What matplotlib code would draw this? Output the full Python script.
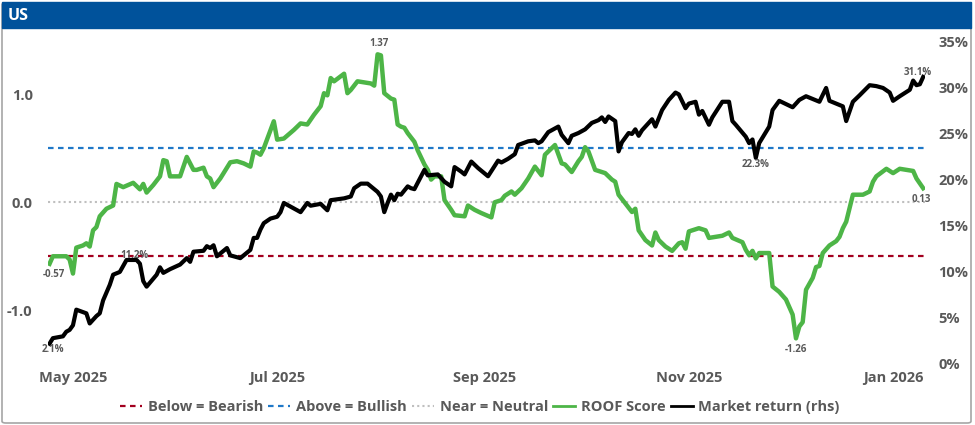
import pandas as pd
import matplotlib
matplotlib.use('Agg')
import matplotlib.pyplot as plt
import matplotlib.dates as mdates
from matplotlib.patches import Rectangle, FancyBboxPatch
from matplotlib.lines import Line2D
from matplotlib.ticker import FuncFormatter

plt.rcParams['font.family'] = ['Open Sans', 'Lato', 'DejaVu Sans']
plt.rcParams['font.weight'] = 'bold'

# --- data ---
roof_dates = [
    '2025-04-24', '2025-04-25', '2025-04-29', '2025-04-30', '2025-05-01', '2025-05-02',
    '2025-05-04', '2025-05-05', '2025-05-06', '2025-05-07', '2025-05-08', '2025-05-09',
    '2025-05-11', '2025-05-13', '2025-05-14', '2025-05-16', '2025-05-19', '2025-05-20',
    '2025-05-21', '2025-05-22', '2025-05-23', '2025-05-25', '2025-05-27', '2025-05-28',
    '2025-05-29', '2025-05-30', '2025-06-02', '2025-06-04', '2025-06-06', '2025-06-07',
    '2025-06-09', '2025-06-10', '2025-06-11', '2025-06-12', '2025-06-14', '2025-06-17',
    '2025-06-19', '2025-06-21', '2025-06-23', '2025-06-24', '2025-06-25', '2025-06-26',
    '2025-06-27', '2025-06-30', '2025-07-01', '2025-07-03', '2025-07-06', '2025-07-08',
    '2025-07-10', '2025-07-12', '2025-07-14', '2025-07-15', '2025-07-16', '2025-07-17',
    '2025-07-18', '2025-07-21', '2025-07-22', '2025-07-23', '2025-07-25', '2025-07-29',
    '2025-07-30', '2025-07-31', '2025-08-01', '2025-08-02', '2025-08-04', '2025-08-05',
    '2025-08-06', '2025-08-07', '2025-08-08', '2025-08-09', '2025-08-11', '2025-08-12',
    '2025-08-14', '2025-08-15', '2025-08-16', '2025-08-17', '2025-08-19', '2025-08-20',
    '2025-08-22', '2025-08-23', '2025-08-26', '2025-08-27', '2025-08-29', '2025-08-31',
    '2025-09-03', '2025-09-04', '2025-09-06', '2025-09-07', '2025-09-09', '2025-09-10',
    '2025-09-12', '2025-09-14', '2025-09-16', '2025-09-18', '2025-09-19', '2025-09-20',
    '2025-09-22', '2025-09-24', '2025-09-25', '2025-09-27', '2025-09-29', '2025-09-30',
    '2025-10-01', '2025-10-02', '2025-10-04', '2025-10-07', '2025-10-09', '2025-10-10',
    '2025-10-11', '2025-10-13', '2025-10-15', '2025-10-16', '2025-10-17', '2025-10-19',
    '2025-10-21', '2025-10-22', '2025-10-23', '2025-10-25', '2025-10-27', '2025-10-29',
    '2025-10-30', '2025-10-31', '2025-11-01', '2025-11-04', '2025-11-06', '2025-11-07',
    '2025-11-09', '2025-11-11', '2025-11-13', '2025-11-14', '2025-11-17', '2025-11-18',
    '2025-11-19', '2025-11-20', '2025-11-21', '2025-11-22', '2025-11-25', '2025-11-26',
    '2025-11-28', '2025-11-30', '2025-12-02', '2025-12-03', '2025-12-04', '2025-12-05',
    '2025-12-06', '2025-12-08', '2025-12-09', '2025-12-10', '2025-12-11', '2025-12-13',
    '2025-12-15', '2025-12-16', '2025-12-17', '2025-12-18', '2025-12-20', '2025-12-23',
    '2025-12-25', '2025-12-26', '2025-12-27', '2025-12-30', '2026-01-01', '2026-01-03',
    '2026-01-07', '2026-01-08', '2026-01-10',
]
roof_score = [
    -0.57, -0.50, -0.50, -0.53, -0.66, -0.42,
    -0.40, -0.38, -0.41, -0.26, -0.23, -0.13,
    -0.06, -0.03, 0.17, 0.14, 0.18, 0.15,
    0.12, 0.17, 0.09, 0.16, 0.24, 0.39,
    0.38, 0.24, 0.24, 0.42, 0.30, 0.30,
    0.32, 0.24, 0.22, 0.14, 0.22, 0.37,
    0.38, 0.36, 0.33, 0.47, 0.46, 0.44,
    0.50, 0.75, 0.58, 0.59, 0.67, 0.73,
    0.72, 0.81, 0.89, 1.01, 0.99, 1.15,
    1.12, 1.19, 1.01, 1.04, 1.12, 1.10,
    1.08, 1.37, 1.36, 1.01, 0.96, 0.95,
    0.72, 0.70, 0.69, 0.64, 0.56, 0.48,
    0.35, 0.30, 0.21, 0.24, 0.24, 0.02,
    -0.07, -0.12, -0.13, -0.03, -0.07, -0.10,
    -0.14, 0.00, 0.02, 0.06, 0.10, 0.07,
    0.13, 0.22, 0.33, 0.25, 0.44, 0.47,
    0.53, 0.36, 0.35, 0.28, 0.38, 0.42,
    0.51, 0.47, 0.30, 0.27, 0.21, 0.19,
    0.07, -0.01, -0.09, -0.06, -0.26, -0.35,
    -0.40, -0.28, -0.35, -0.41, -0.45, -0.38,
    -0.37, -0.43, -0.27, -0.24, -0.26, -0.33,
    -0.32, -0.31, -0.28, -0.33, -0.37, -0.44,
    -0.49, -0.45, -0.52, -0.47, -0.47, -0.78,
    -0.83, -0.90, -1.04, -1.26, -1.15, -1.11,
    -0.81, -0.70, -0.60, -0.59, -0.47, -0.40,
    -0.36, -0.32, -0.24, -0.18, 0.07, 0.07,
    0.10, 0.19, 0.24, 0.31, 0.27, 0.31,
    0.29, 0.22, 0.13,
]

mkt_dates = [
    '2025-04-24', '2025-04-25', '2025-04-28', '2025-04-29', '2025-04-30', '2025-05-01',
    '2025-05-02', '2025-05-05', '2025-05-06', '2025-05-08', '2025-05-09', '2025-05-10',
    '2025-05-12', '2025-05-13', '2025-05-15', '2025-05-17', '2025-05-20', '2025-05-21',
    '2025-05-22', '2025-05-23', '2025-05-26', '2025-05-27', '2025-05-28', '2025-05-30',
    '2025-06-02', '2025-06-04', '2025-06-05', '2025-06-06', '2025-06-09', '2025-06-10',
    '2025-06-11', '2025-06-12', '2025-06-13', '2025-06-16', '2025-06-17', '2025-06-20',
    '2025-06-23', '2025-06-24', '2025-06-25', '2025-06-26', '2025-06-27', '2025-06-29',
    '2025-07-01', '2025-07-02', '2025-07-03', '2025-07-05', '2025-07-08', '2025-07-10',
    '2025-07-11', '2025-07-14', '2025-07-16', '2025-07-17', '2025-07-21', '2025-07-23',
    '2025-07-24', '2025-07-26', '2025-07-28', '2025-07-31', '2025-08-01', '2025-08-02',
    '2025-08-03', '2025-08-04', '2025-08-05', '2025-08-06', '2025-08-07', '2025-08-09',
    '2025-08-10', '2025-08-11', '2025-08-13', '2025-08-14', '2025-08-15', '2025-08-18',
    '2025-08-20', '2025-08-22', '2025-08-23', '2025-08-25', '2025-08-26', '2025-08-28',
    '2025-08-30', '2025-09-02', '2025-09-05', '2025-09-06', '2025-09-08', '2025-09-10',
    '2025-09-11', '2025-09-14', '2025-09-16', '2025-09-17', '2025-09-18', '2025-09-20',
    '2025-09-23', '2025-09-24', '2025-09-26', '2025-09-27', '2025-09-29', '2025-10-01',
    '2025-10-03', '2025-10-05', '2025-10-06', '2025-10-07', '2025-10-08', '2025-10-10',
    '2025-10-11', '2025-10-12', '2025-10-14', '2025-10-15', '2025-10-16', '2025-10-17',
    '2025-10-18', '2025-10-21', '2025-10-22', '2025-10-24', '2025-10-26', '2025-10-28',
    '2025-10-29', '2025-10-31', '2025-11-01', '2025-11-03', '2025-11-04', '2025-11-05',
    '2025-11-07', '2025-11-08', '2025-11-11', '2025-11-13', '2025-11-14', '2025-11-15',
    '2025-11-18', '2025-11-19', '2025-11-20', '2025-11-21', '2025-11-22', '2025-11-24',
    '2025-11-25', '2025-11-26', '2025-11-28', '2025-12-02', '2025-12-04', '2025-12-06',
    '2025-12-10', '2025-12-12', '2025-12-13', '2025-12-15', '2025-12-17', '2025-12-18',
    '2025-12-20', '2025-12-22', '2025-12-25', '2025-12-27', '2025-12-29', '2025-12-31',
    '2026-01-01', '2026-01-03', '2026-01-06', '2026-01-07', '2026-01-08', '2026-01-09',
    '2026-01-10',
]
mkt_return = [
    2.1, 2.7, 2.9, 3.4, 3.6, 4.1,
    5.8, 5.4, 4.3, 5.1, 5.4, 6.8,
    8.5, 9.6, 9.9, 11.2, 11.2, 10.8,
    8.9, 8.3, 9.6, 10.4, 9.8, 10.2,
    10.7, 11.4, 11.0, 12.1, 12.2, 12.7,
    12.5, 12.8, 11.6, 12.5, 11.7, 11.4,
    12.3, 13.6, 13.6, 14.5, 15.2, 15.7,
    15.9, 16.4, 17.4, 17.0, 16.4, 17.4,
    17.1, 17.3, 16.6, 17.7, 17.9, 18.1,
    19.0, 19.5, 19.5, 18.6, 18.1, 16.4,
    17.4, 18.3, 17.7, 18.4, 18.3, 19.2,
    19.0, 18.9, 20.3, 21.0, 20.4, 20.5,
    19.7, 19.2, 21.3, 20.8, 20.5, 21.9,
    21.2, 20.3, 22.0, 21.8, 22.2, 22.7,
    23.7, 24.1, 24.2, 23.9, 24.1, 25.1,
    25.7, 24.8, 23.9, 24.7, 25.0, 25.4,
    26.1, 26.4, 26.7, 26.2, 26.8, 26.3,
    23.0, 24.0, 25.0, 24.9, 25.4, 24.7,
    25.3, 26.5, 25.7, 27.5, 28.6, 29.4,
    29.2, 27.7, 28.2, 28.4, 27.0, 27.4,
    25.9, 26.7, 28.4, 28.4, 26.3, 25.9,
    24.6, 23.9, 24.3, 22.3, 23.9, 25.1,
    25.7, 27.5, 28.5, 27.8, 28.6, 29.0,
    28.4, 29.9, 28.5, 28.2, 27.9, 26.3,
    28.4, 29.1, 30.2, 30.1, 29.9, 29.4,
    28.5, 29.0, 29.7, 30.7, 30.2, 30.3,
    31.1,
]

bearish_level = -0.5
bullish_level = 0.5
neutral_level = 0.0

# labelled points: (date, text, offset in points)
roof_labels = [('2025-04-24', '-0.57', (3, -8)), ('2025-07-31', '1.37', (1, 7.5)),
               ('2025-12-03', '-1.26', (0, -8)), ('2026-01-10', '0.13', (-1.5, -8))]
mkt_labels = [('2025-04-24', '2.1%', (2.5, -4.5)), ('2025-05-17', '11.2%', (6, 3)),
              ('2025-11-21', '22.3%', (0, -4.5)), ('2026-01-10', '31.1%', (-4, 3))]

GREY = '#595959'
GREEN = '#4DB547'
RED = '#A3001F'
BLUE = '#1F78C8'
DOT = '#BFBFBF'

rd = pd.to_datetime(roof_dates)
md = pd.to_datetime(mkt_dates)

fig = plt.figure(figsize=(9.75, 4.25), dpi=100)
W, H = 975, 425

# outer frame and title bar
fig.patches.append(FancyBboxPatch((2 / W, 2 / H), 969 / W, 420 / H,
                                  boxstyle='round,pad=0,rounding_size=0.004',
                                  transform=fig.transFigure, fill=False,
                                  edgecolor='#A6A6A6', linewidth=1.2, zorder=0))
fig.patches.append(Rectangle((2 / W, 1 - 28 / H), 969 / W, 26 / H,
                             transform=fig.transFigure, color='#00529B', zorder=1))
fig.text(8 / W, 1 - 15.5 / H, 'US', color='white', fontsize=11.5,
         fontweight='bold', va='center', ha='left')

ax = fig.add_axes([48 / W, 1 - 370 / H, 877 / W, 340 / H])
ax2 = ax.twinx()

ax.axhline(bearish_level, color=RED, lw=1.6, ls=(0, (2.5, 2)))
ax.axhline(bullish_level, color=BLUE, lw=1.6, ls=(0, (2.5, 2)))
ax.axhline(neutral_level, color=DOT, lw=1.5, ls=(0, (1, 1.5)))
ax.plot(rd, roof_score, color=GREEN, lw=3.2, solid_joinstyle='round')
ax2.plot(md, mkt_return, color='black', lw=3.0, solid_joinstyle='round')

ax.set_ylim(-1.553, 1.595)
ax2.set_ylim(-0.76, 36.2)
x0 = pd.Timestamp('2025-04-24') - pd.Timedelta(hours=11)
x1 = pd.Timestamp('2026-01-10') + pd.Timedelta(hours=13)
ax.set_xlim(x0, x1)

ax.set_yticks([-1.0, 0.0, 1.0])
ax.yaxis.set_major_formatter(FuncFormatter(lambda v, p: f'{v:.1f}'))
ax2.set_yticks(range(0, 36, 5))
ax2.yaxis.set_major_formatter(FuncFormatter(lambda v, p: f'{v:.0f}%'))
ax.set_xticks(pd.to_datetime(['2025-05-01', '2025-07-01', '2025-09-01',
                              '2025-11-01', '2026-01-01']))
ax.xaxis.set_major_formatter(mdates.DateFormatter('%b %Y'))

for a in (ax, ax2):
    for s in a.spines.values():
        s.set_visible(False)
    a.tick_params(length=0, labelsize=10.5, labelcolor=GREY)
ax.tick_params(axis='y', pad=11)
ax2.tick_params(axis='y', pad=9.5)
ax.tick_params(axis='x', pad=1)

for d, txt, off in roof_labels:
    i = roof_dates.index(d)
    ax.annotate(txt, (rd[i], roof_score[i]), xytext=off, textcoords='offset points',
                ha='center', va='center', fontsize=7, color=GREY)
for d, txt, off in mkt_labels:
    i = mkt_dates.index(d)
    ax2.annotate(txt, (md[i], mkt_return[i]), xytext=off, textcoords='offset points',
                 ha='center', va='center', fontsize=7, color=GREY)

handles = [
    Line2D([], [], color=RED, lw=1.6, ls=(0, (2.5, 2))),
    Line2D([], [], color=BLUE, lw=1.6, ls=(0, (2.5, 2))),
    Line2D([], [], color=DOT, lw=1.5, ls=(0, (1, 1.5))),
    Line2D([], [], color=GREEN, lw=2),
    Line2D([], [], color='black', lw=2),
]
names = ['Below = Bearish', 'Above = Bullish', 'Near = Neutral', 'ROOF Score',
         'Market return (rhs)']
leg = fig.legend(handles, names, loc='center', bbox_to_anchor=(480 / W, 1 - 407 / H),
                 ncol=5, frameon=False, handlelength=1.5, handletextpad=0.4,
                 columnspacing=0.35, fontsize=10.5)
for t in leg.get_texts():
    t.set_color(GREY)

fig.savefig('out.png', dpi=100)
